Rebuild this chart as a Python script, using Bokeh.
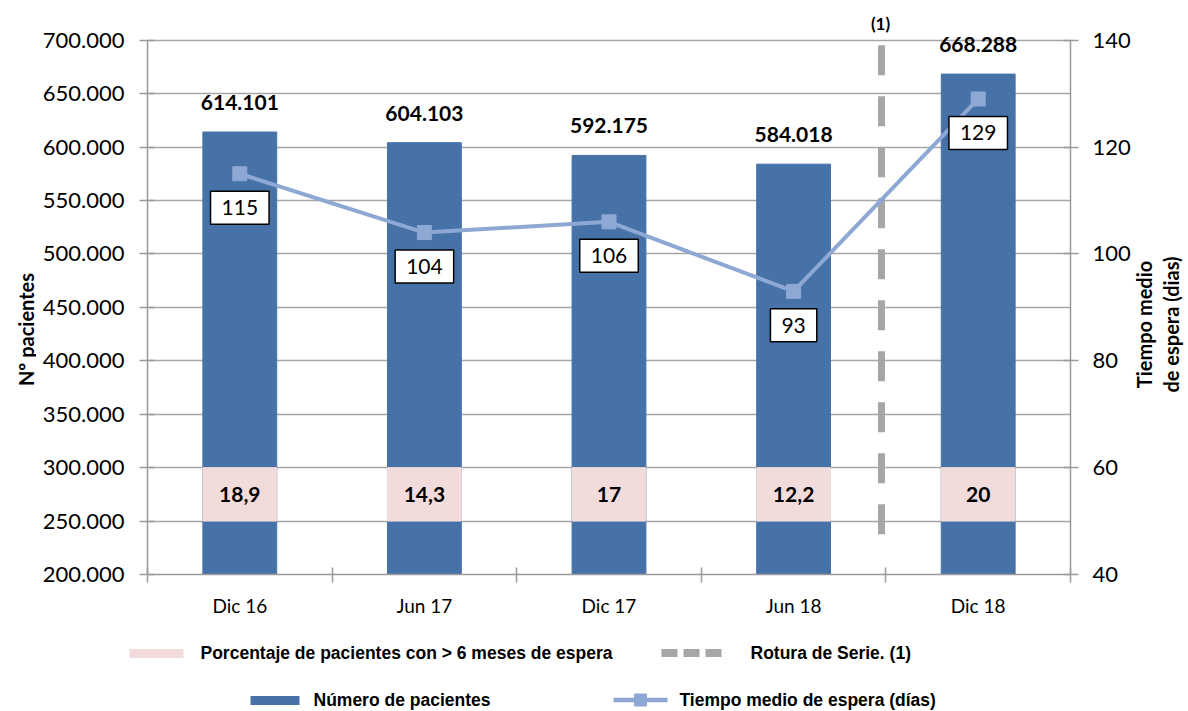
import math
from bokeh.plotting import figure
from bokeh.models import (ColumnDataSource, Range1d, LinearAxis, FixedTicker,
                          LabelSet, Label)
from bokeh.layouts import column, row
from bokeh.embed import file_html
from bokeh.resources import INLINE
from bokeh.core.properties import value

# ---------------- data ----------------
categories = ["Dic 16", "Jun 17", "Dic 17", "Jun 18", "Dic 18"]
patients = [614101, 604103, 592175, 584018, 668288]
patient_labels = ["614.101", "604.103", "592.175", "584.018", "668.288"]
wait_days = [115, 104, 106, 93, 129]
wait_labels = ["115", "104", "106", "93", "129"]
pct_over_6m = [18.9, 14.3, 17, 12.2, 20]
pct_labels = ["18,9", "14,3", "17", "12,2", "20"]
left_ticks = [200000, 250000, 300000, 350000, 400000, 450000,
              500000, 550000, 600000, 650000, 700000]
left_tick_labels = ["200.000", "250.000", "300.000", "350.000", "400.000",
                    "450.000", "500.000", "550.000", "600.000", "650.000",
                    "700.000"]
right_ticks = [40, 60, 80, 100, 120, 140]
left_title = "Nº pacientes"
right_title = "Tiempo medio\nde espera (dias)"

# ---------------- styles ----------------
BAR = "#4672A8"
PINK = "#F2DCDB"
LINE = "#8EA8D4"
DASH = "#A6A6A6"
GRID = "#A6A6A6"
AXIS = "#9A9A9A"
FONT = "Lato"
LFONT = "Liberation Sans"

xs = list(range(1, len(categories) + 1))
bounds = [x - 0.5 for x in xs] + [xs[-1] + 0.5]

src = ColumnDataSource(dict(
    x=xs, cat=categories, patients=patients, plab=patient_labels,
    wait=wait_days, wlab=wait_labels, pct=pct_over_6m, pctlab=pct_labels,
    pbot=[250000] * len(xs), ptop=[300000] * len(xs),
    pmid=[275000] * len(xs),
))

# left axis spans 200k..700k; headroom above it for labels
Y0, Y1, YTOP = 200000, 700000, 725000
R0, R1 = 40, 140
RTOP = R0 + (YTOP - Y0) * (R1 - R0) / (Y1 - Y0)

H = 625
LW, RW = 36, 55          # side strips holding the axis titles
W = 1188 - LW - RW

p = figure(width=W, height=H, x_range=Range1d(0.5, 5.5),
           y_range=Range1d(Y0, YTOP), output_backend="svg",
           toolbar_location=None, min_border_left=147 - LW,
           min_border_right=W - (1073 - LW),
           min_border_top=13, min_border_bottom=H - 574)
p.outline_line_color = None
p.background_fill_color = "white"
p.border_fill_color = "white"
p.xgrid.visible = False
p.ygrid.ticker = FixedTicker(ticks=left_ticks)
p.ygrid.grid_line_color = GRID
p.ygrid.grid_line_width = 1.3

p.extra_y_ranges = {"t": Range1d(R0, RTOP)}

# bars
p.vbar(x="x", top="patients", bottom=Y0, width=0.4, source=src,
       fill_color=BAR, line_color=BAR)
# pink percentage boxes
p.vbar(x="x", top="ptop", bottom="pbot", width=0.4, source=src,
       fill_color=PINK, line_color=PINK)
p.text(x="x", y="pmid", text="pctlab", source=src, text_align="center",
       text_baseline="middle", text_font=value(FONT), text_font_style="bold",
       text_font_size="21px", text_color="black")

# series break dashed line (between Jun 18 and Dic 18)
brk = 4.476
p.line(x=[brk, brk], y=[695300, 224000], line_color=DASH, line_width=7,
       line_dash="30 21", line_cap="butt")
p.add_layout(Label(x=brk - 0.005, y=Y1, y_offset=17, text="(1)",
                   text_align="center", text_baseline="middle",
                   text_font=FONT, text_font_style="bold",
                   text_font_size="17px", text_color="black"))

# wait time line
p.line(x="x", y="wait", source=src, y_range_name="t", line_color=LINE,
       line_width=4)
p.scatter(x="x", y="wait", source=src, y_range_name="t", marker="square",
          size=14, fill_color=LINE, line_color=LINE)

# bar value labels
p.add_layout(LabelSet(x="x", y="patients", text="plab", source=src,
                      y_offset=22, text_align="center",
                      text_baseline="alphabetic", text_font=value(FONT),
                      text_font_style="bold", text_font_size="21px",
                      text_color="black"))
# wait value boxes
for xv, wv, wl in zip(xs, wait_days, wait_labels):
    p.add_layout(Label(x=xv, y=wv, text=wl, y_range_name="t", y_offset=-34,
                       text_align="center", text_baseline="middle",
                       text_font=FONT, text_font_size="21px",
                       text_color="black", background_fill_color="white",
                       border_line_color="black", border_line_width=1.5,
                       padding=(11, 9)))

# axes
xa = p.xaxis[0]
xa.ticker = FixedTicker(ticks=xs, minor_ticks=bounds)
xa.major_label_overrides = {x: c for x, c in zip(xs, categories)}
xa.major_tick_in = 0
xa.major_tick_out = 0
xa.minor_tick_in = 7
xa.minor_tick_out = 8
xa.minor_tick_line_color = AXIS
xa.minor_tick_line_width = 1.5
xa.axis_line_color = AXIS
xa.axis_line_width = 1.5
xa.major_label_standoff = 11
xa.major_label_text_font = FONT
xa.major_label_text_font_size = "19px"
xa.major_label_text_color = "black"

ya = p.yaxis[0]
ya.bounds = (Y0, Y1)
ya.ticker = FixedTicker(ticks=left_ticks)
ya.major_label_overrides = {t: s for t, s in zip(left_ticks, left_tick_labels)}
ya.major_tick_in = 7
ya.major_tick_out = 8
ya.major_tick_line_color = AXIS
ya.major_tick_line_width = 1.5
ya.minor_tick_line_color = None
ya.axis_line_color = AXIS
ya.axis_line_width = 1.5
ya.major_label_standoff = 15
ya.major_label_text_font = FONT
ya.major_label_text_font_size = "22px"
ya.major_label_text_color = "black"

ra = LinearAxis(y_range_name="t", ticker=FixedTicker(ticks=right_ticks))
ra.bounds = (R0, R1)
ra.major_tick_in = 7
ra.major_tick_out = 8
ra.major_tick_line_color = AXIS
ra.major_tick_line_width = 1.5
ra.minor_tick_line_color = None
ra.axis_line_color = AXIS
ra.axis_line_width = 1.5
ra.major_label_standoff = 14
ra.major_label_text_font = FONT
ra.major_label_text_font_size = "22px"
ra.major_label_text_color = "black"
p.add_layout(ra, "right")


def title_strip(width, text, cx, cy):
    f = figure(width=width, height=H, x_range=Range1d(0, width),
               y_range=Range1d(H, 0), output_backend="svg",
               toolbar_location=None, min_border=0)
    f.axis.visible = False
    f.grid.visible = False
    f.outline_line_color = None
    f.frame_align = False
    f.text(x=[cx], y=[cy], text=[text], angle=math.pi / 2,
           text_align="center", text_baseline="middle",
           text_font=value(FONT), text_font_style="bold",
           text_font_size="20px", text_color="black", text_line_height=1.15)
    return f


llab = title_strip(LW, left_title, 25, 329)
rlab = title_strip(RW, right_title, 1157 - (1188 - RW), 324)

# ---------------- legend (separate strip) ----------------
LH = 86
lg = figure(width=1188, height=LH, x_range=Range1d(0, 1188),
            y_range=Range1d(LH, 0), output_backend="svg",
            toolbar_location=None, min_border=0)
lg.axis.visible = False
lg.grid.visible = False
lg.outline_line_color = None
p.frame_align = False
lg.frame_align = False

r1, r2 = 27.5, 74.5
lg.rect(x=[156], y=[r1 + 0.5], width=54, height=9, fill_color=PINK,
        line_color=None)
lg.line(x=[661, 723], y=[r1, r1], line_color=DASH, line_width=8,
        line_dash="16 6", line_cap="butt")
lg.rect(x=[274.5], y=[r2 + 0.5], width=49, height=9, fill_color=BAR,
        line_color=None)
lg.line(x=[613, 667], y=[r2, r2], line_color=LINE, line_width=4.5)
lg.scatter(x=[640], y=[r2], marker="square", size=12, fill_color=LINE,
           line_color=LINE)
lg.text(x=[200, 750, 313, 679], y=[r1, r1, r2, r2],
        text=["Porcentaje de pacientes con > 6 meses  de espera",
              "Rotura de Serie. (1)", "Número de pacientes",
              "Tiempo medio de espera (días)"],
        text_align="left", text_baseline="middle",
        text_font=value(LFONT), text_font_style="bold",
        text_font_size="17.5px", text_color="black")

layout = column(row(llab, p, rlab, spacing=0), lg, spacing=0)
open("out.html", "w").write(file_html(layout, INLINE))
